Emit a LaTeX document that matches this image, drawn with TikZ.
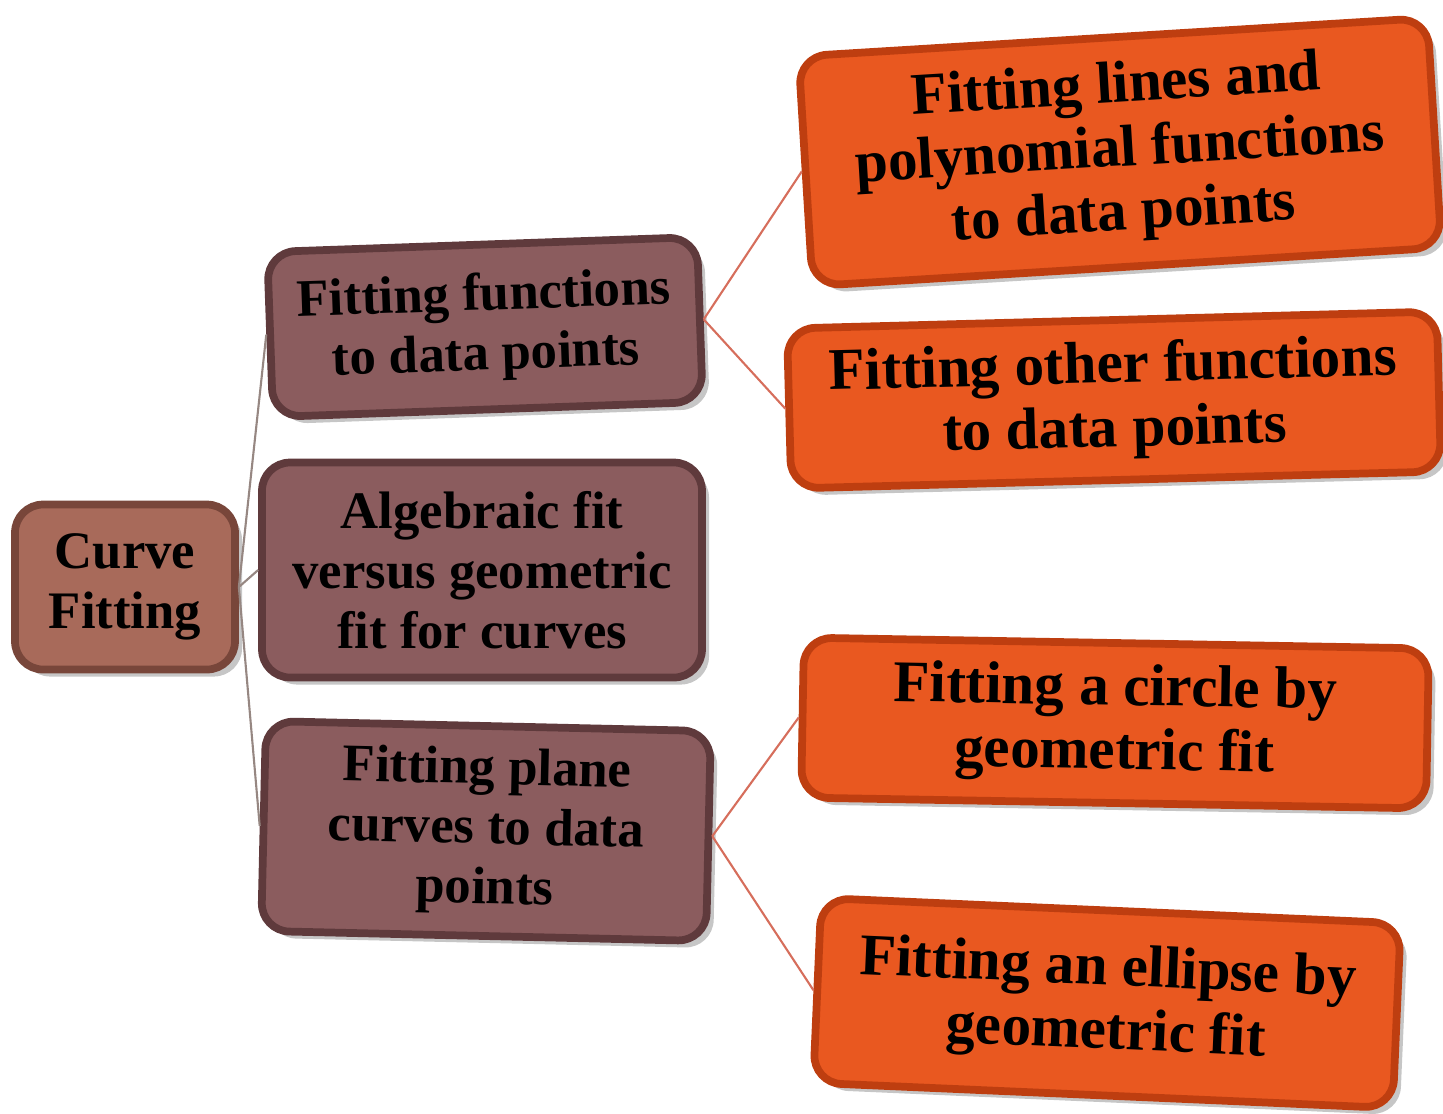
\documentclass[tikz,border=0pt]{standalone}
\usepackage{fontspec}
\setmainfont{Liberation Serif}
\usepackage{xcolor}
\usetikzlibrary{shadows}

\definecolor{rootfill}{RGB}{168,106,90}
\definecolor{rootedge}{RGB}{120,70,58}
\definecolor{topicfill}{RGB}{139,92,94}
\definecolor{topicedge}{RGB}{95,58,60}
\definecolor{leaffill}{RGB}{233,88,32}
\definecolor{leafedge}{RGB}{190,62,16}
\definecolor{rootline}{RGB}{150,135,130}
\definecolor{leafline}{RGB}{214,110,92}

\begin{document}
\begin{tikzpicture}[
      box/.style={rectangle, rounded corners=8pt, line width=2.2pt, align=center,
        font=\bfseries\fontsize{15}{17}\selectfont, inner sep=2pt,
        drop shadow={shadow xshift=2pt, shadow yshift=-2pt, opacity=0.45}},
      box-root/.style={box, draw=rootedge, fill=rootfill},
      box-topic/.style={box, draw=topicedge, fill=topicfill},
      box-leaf/.style={box, draw=leafedge, fill=leaffill,
        font=\bfseries\fontsize{16.8}{18.2}\selectfont},
      link-root/.style={draw=rootline, line width=0.6pt},
      link-leaf/.style={draw=leafline, line width=0.6pt}
    ]
      \useasboundingbox (0,0) rectangle (14.43,-11.13);
      % root
      \node[box-root, minimum width=2.2cm, minimum height=1.65cm] (curve) at (1.25,-5.87) {Curve\\Fitting};
      % topics
      \node[box-topic, minimum width=4.3cm, minimum height=1.65cm, rotate=2] (functions) at (4.85,-3.27) {Fitting functions\\to data points};
      \node[box-topic, minimum width=4.4cm, minimum height=2.15cm] (algebraic) at (4.82,-5.70) {Algebraic fit\\versus geometric\\fit for curves};
      \node[box-topic, minimum width=4.45cm, minimum height=2.1cm, rotate=-1.3] (plane) at (4.86,-8.31) {Fitting plane\\curves to data\\points};
      % leaves
      \node[box-leaf, minimum width=6.3cm, minimum height=2.3cm, rotate=3.5] (lines) at (11.2,-1.52) {Fitting lines and\\polynomial functions\\to data points};
      \node[box-leaf, minimum width=6.5cm, minimum height=1.6cm, rotate=1.5] (other) at (11.14,-4.0) {Fitting other functions\\to data points};
      \node[box-leaf, minimum width=6.25cm, minimum height=1.6cm, rotate=-1] (circle) at (11.15,-7.23) {Fitting a circle by\\geometric fit};
      \node[box-leaf, minimum width=5.8cm, minimum height=1.85cm, rotate=-2.5] (ellipse) at (11.07,-10.03) {Fitting an ellipse by\\geometric fit};
      % links
      \draw[link-root] (curve.east) -- (functions.west);
      \draw[link-root] (curve.east) -- (algebraic.west);
      \draw[link-root] (curve.east) -- (plane.west);
      \draw[link-leaf] (functions.east) -- (lines.west);
      \draw[link-leaf] (functions.east) -- (other.west);
      \draw[link-leaf] (plane.east) -- (circle.west);
      \draw[link-leaf] (plane.east) -- (ellipse.west);
    \end{tikzpicture}
\end{document}
